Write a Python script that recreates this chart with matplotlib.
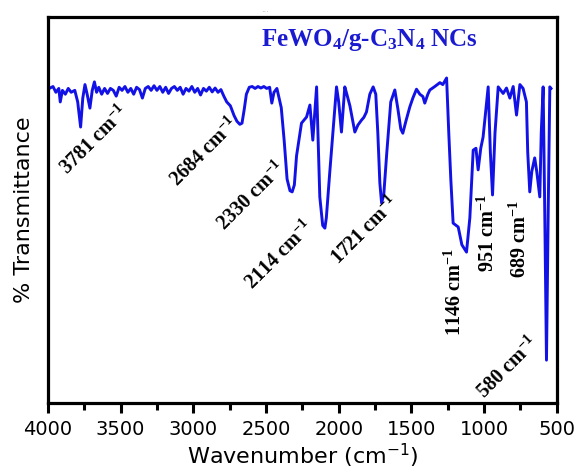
import matplotlib
matplotlib.use('Agg')
import matplotlib.pyplot as plt
import numpy as np

plt.rcParams['mathtext.default'] = 'regular'

# FT-IR spectrum (wavenumber, % transmittance)
wavenumber = [3990, 3965, 3945, 3925, 3915, 3900, 3880, 3860, 3840, 3815,
              3795, 3775, 3760, 3745, 3730, 3711, 3695, 3680, 3665, 3650,
              3630, 3610, 3590, 3570, 3550, 3530, 3510, 3490, 3470, 3450,
              3430, 3410, 3390, 3370, 3350, 3330, 3310, 3290, 3270, 3250,
              3230, 3210, 3190, 3170, 3150, 3130, 3110, 3090, 3070, 3050,
              3030, 3010, 2990, 2970, 2950, 2930, 2910, 2890, 2870, 2850,
              2830, 2810, 2790, 2770, 2745, 2720, 2700, 2680, 2665, 2650,
              2635, 2615, 2595, 2575, 2555, 2535, 2515, 2495, 2475, 2460,
              2445, 2425, 2410, 2395, 2375, 2355, 2335, 2320, 2305, 2290,
              2256, 2221, 2198, 2178, 2152, 2130, 2110, 2095, 2085, 2061,
              2015, 2000, 1981, 1958, 1944, 1923, 1889, 1868, 1843, 1827,
              1809, 1786, 1763, 1745, 1731, 1717, 1705, 1690, 1669, 1642,
              1614, 1593, 1573, 1559, 1538, 1511, 1490, 1465, 1442, 1421,
              1408, 1387, 1373, 1339, 1304, 1284, 1258, 1243, 1229, 1213,
              1178, 1153, 1121, 1098, 1075, 1056, 1041, 1023, 1007, 988,
              972, 957, 942, 925, 903, 869, 846, 823, 800, 777,
              754, 732, 709, 700, 686, 672, 652, 638, 617, 607,
              594, 583, 571, 559, 548, 540]
transmittance = [81.5, 82.0, 80.5, 81.5, 78.0, 81.0, 80.0, 81.5, 80.5, 81.0,
                 78.0, 71.5, 79.0, 82.5, 80.0, 76.4, 81.0, 83.2, 80.5, 81.8,
                 80.0, 81.5, 80.2, 81.5, 81.0, 79.5, 81.8, 81.0, 82.0, 80.5,
                 81.5, 80.0, 81.8, 81.2, 79.0, 81.5, 82.0, 81.0, 82.2, 81.0,
                 82.0, 80.5, 81.8, 80.2, 81.5, 82.0, 81.0, 81.8, 80.0, 81.5,
                 80.8, 82.0, 80.5, 81.5, 79.8, 81.5, 80.8, 81.8, 80.6, 81.6,
                 80.5, 81.2, 79.5, 78.0, 77.0, 74.5, 73.0, 72.2, 72.5, 76.0,
                 80.0, 81.8, 82.0, 81.5, 82.0, 81.6, 82.0, 81.5, 81.8, 77.7,
                 80.5, 81.5, 79.0, 76.5, 68.0, 58.0, 55.0, 54.7, 56.5, 64.0,
                 72.5, 74.1, 77.2, 68.1, 81.9, 53.4, 46.0, 45.3, 48.0, 60.0,
                 81.9, 78.0, 70.2, 81.9, 80.0, 77.0, 70.2, 72.0, 73.3, 74.0,
                 75.4, 80.0, 81.9, 80.0, 70.0, 57.0, 51.8, 54.0, 65.0, 78.0,
                 81.1, 76.2, 71.0, 69.9, 73.0, 76.7, 79.0, 81.3, 80.0, 79.4,
                 77.7, 80.0, 81.1, 82.0, 83.0, 82.5, 84.2, 70.0, 58.0, 46.6,
                 45.6, 41.0, 39.1, 48.0, 65.5, 66.0, 60.4, 66.0, 68.9, 76.0,
                 81.9, 65.0, 53.9, 70.0, 81.9, 80.2, 81.6, 79.0, 82.0, 74.6,
                 82.5, 81.5, 78.0, 65.0, 54.7, 60.0, 63.5, 60.0, 53.4, 70.0,
                 81.9, 50.0, 11.1, 50.0, 81.9, 81.5]

# peak labels: text, x, y, rotation
peak_labels = ['3781', '2684', '2330', '2114', '1721', '1146', '951', '689', '580']
label_x = [3677, 2920, 2597, 2405, 1820, 1201, 975, 754, 837]
label_y = [68.1, 64.8, 53.4, 38.3, 44.6, 28.8, 44.0, 42.5, 9.1]
label_rot = [45, 45, 45, 45, 45, 90, 90, 90, 45]

fig = plt.figure(figsize=(5.77, 4.73), dpi=100)
ax = fig.add_axes([0.083, 0.148, 0.882, 0.816])

ax.plot(wavenumber, transmittance, color='#1212e6', lw=2.1)

for txt, x, y, r in zip(peak_labels, label_x, label_y, label_rot):
    ax.text(x, y, txt + ' cm$^{-1}$', rotation=r, rotation_mode='anchor',
            ha='center', va='center', fontsize=14.5, fontweight='bold',
            family='Liberation Serif', color='black')

ax.text(1786, 94, 'FeWO$_4$/g-C$_3$N$_4$ NCs', ha='center', va='center',
        fontsize=18, fontweight='bold', family='Liberation Serif', color='#1a1ad0')

ax.set_xlim(4000, 500)
ax.set_ylim(0, 100)
ax.set_xticks(np.arange(4000, 499, -500))
ax.set_xticks(np.arange(3750, 500, -500), minor=True)
ax.set_yticks([])
ax.tick_params(axis='x', which='major', direction='out', length=7, width=2.2,
               labelsize=14, pad=5)
ax.tick_params(axis='x', which='minor', direction='out', length=5, width=2.2)
for s in ax.spines.values():
    s.set_linewidth(2.3)

ax.set_xlabel('Wavenumber (cm$^{-1}$)', fontsize=16, labelpad=2)
ax.set_ylabel('% Transmittance', fontsize=16, labelpad=10)

fig.text(0.46, 0.99, '...', color='#aaaaaa', fontsize=6, ha='center', va='top')

fig.savefig('out.png', dpi=100)
